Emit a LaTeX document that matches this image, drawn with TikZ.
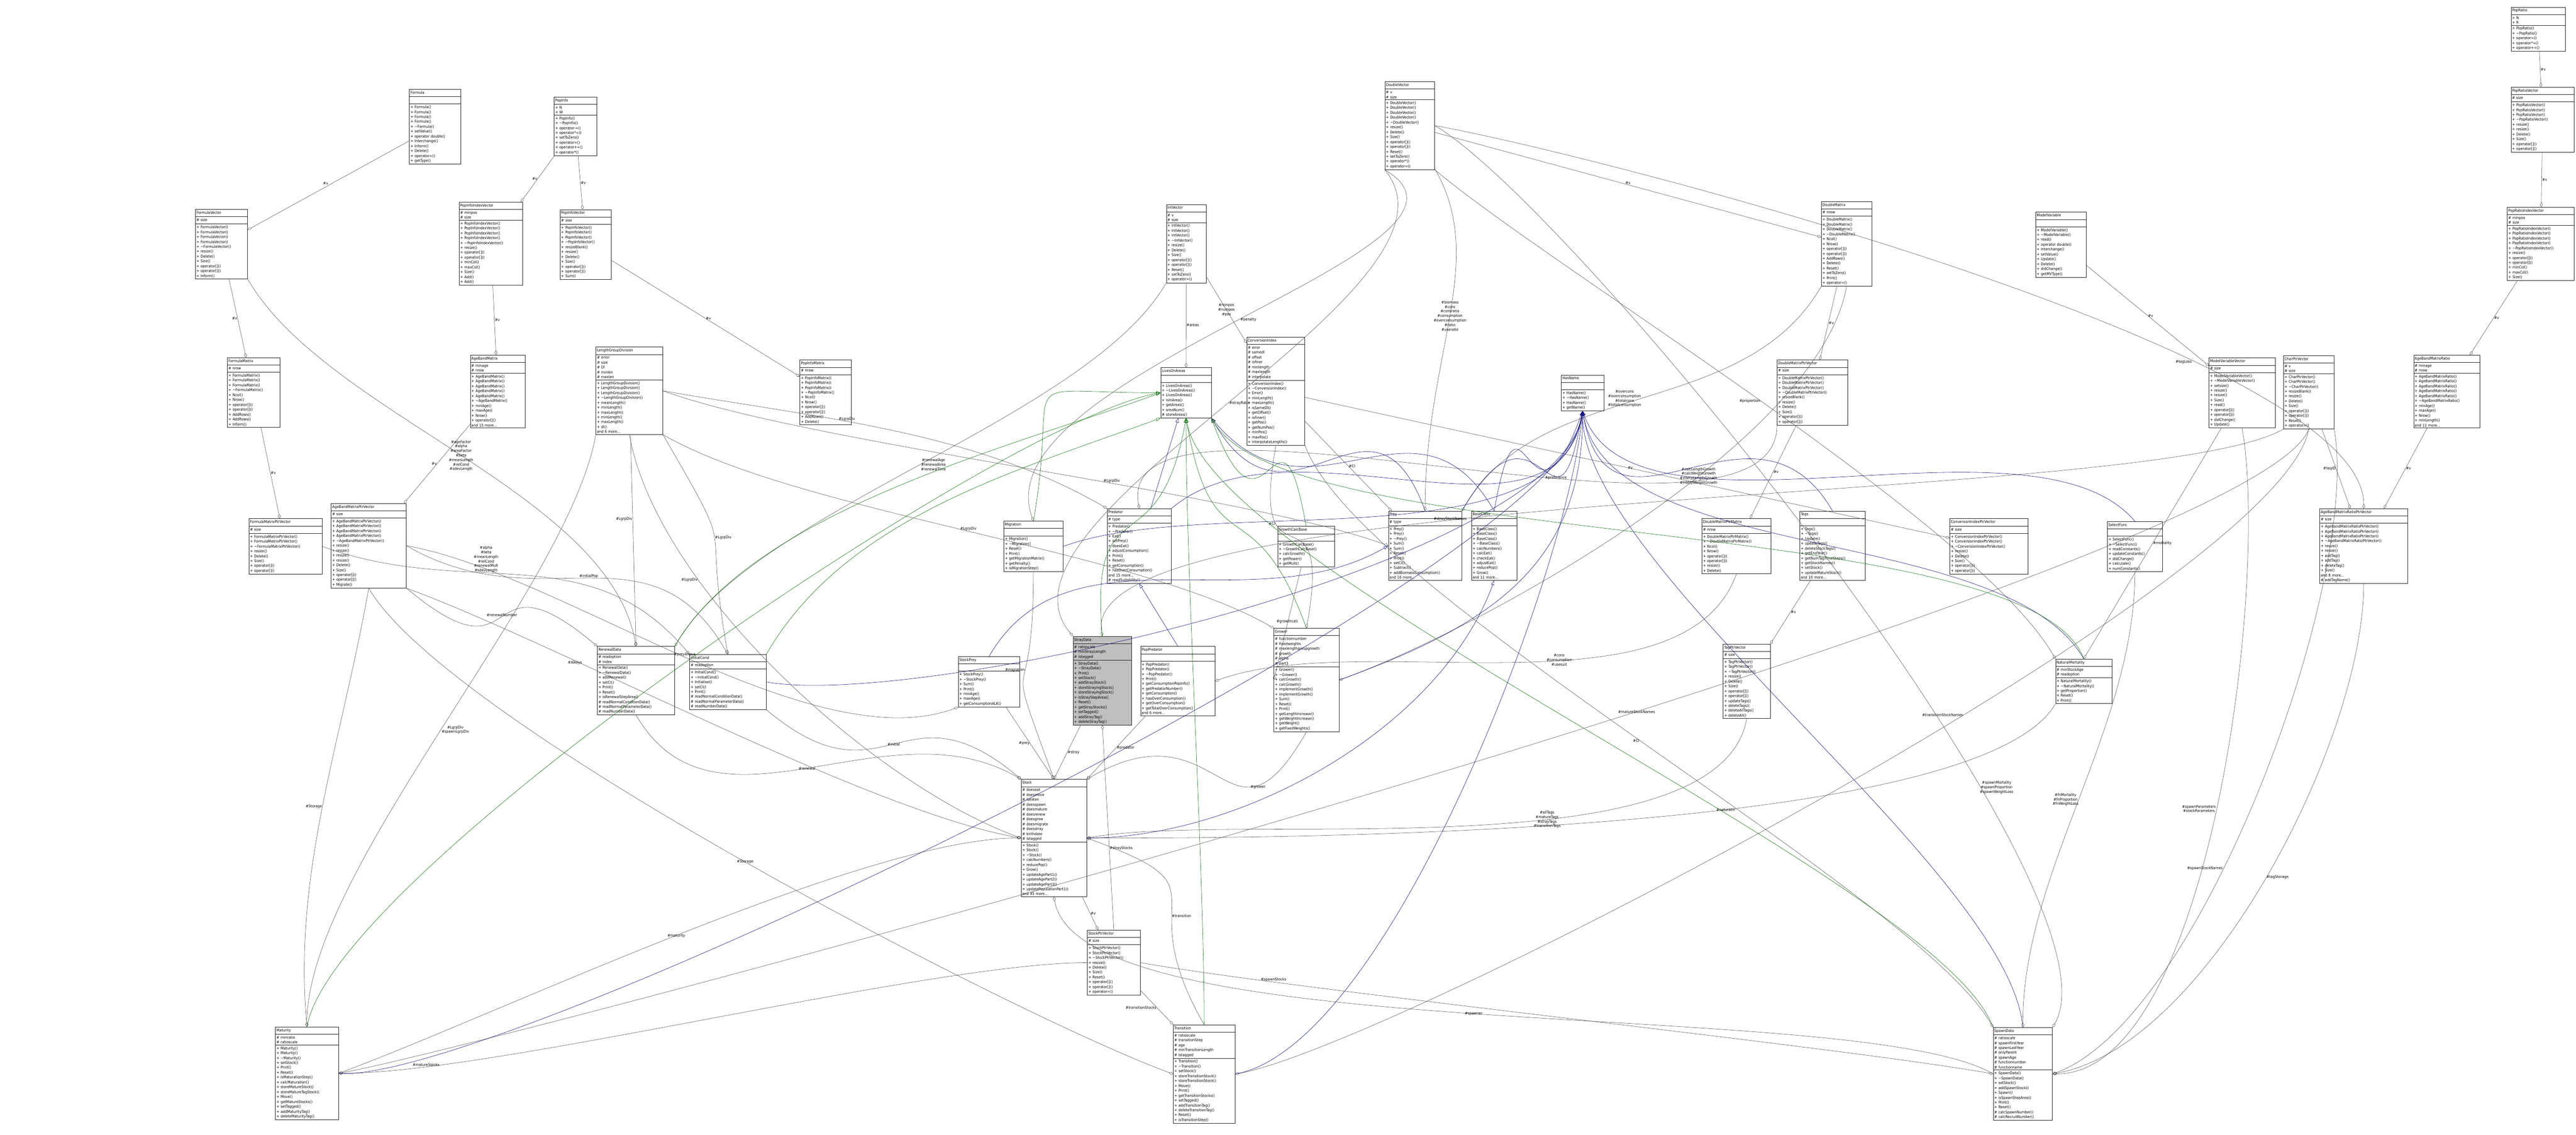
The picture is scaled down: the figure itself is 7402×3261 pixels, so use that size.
\documentclass[tikz,border=0pt]{standalone}
\usepackage{fontspec}
\setmainfont{DejaVu Sans Condensed}
\usetikzlibrary{shapes.multipart, arrows.meta, positioning}

\tikzset{
  cls/.style={rectangle split, rectangle split parts=3, draw=black!85, line width=1pt,
    fill=white, anchor=north west, align=left, inner sep=3pt,
    font=\fontsize{11}{14}\selectfont},
  hilite/.style={fill=black!25},
  agg/.style={draw=black!70, line width=.8pt, {Diamond[open,length=13pt,width=8pt]}-},
  pub/.style={draw=blue!45!black, line width=.8pt, -{Triangle[open,length=13pt,width=9pt]}},
  prot/.style={draw=green!40!black, line width=.8pt, -{Triangle[open,length=13pt,width=9pt]}},
  lbl/.style={font=\fontsize{11}{13}\selectfont, align=center, inner sep=1pt},
  cv/.style 2 args={to path={.. controls +(#1:450pt) and +(#2:450pt) .. (\tikztotarget) \tikztonodes}}
}
\newcommand{\tl}{\textasciitilde}
% class box: [style] name x y width title attributes methods
\newcommand{\umlclass}[8][]{%
  \node[cls, #1, text width=#5pt] (#2) at (#3pt,-#4pt)
    {\centering\strut #6\nodepart{two}\strut #7\nodepart{three}\strut #8};}

\begin{document}
\begin{tikzpicture}
\useasboundingbox (0,0) rectangle (7402pt,-3261pt);

% vectors and matrices
\umlclass{Formula}{1176}{256}{142}{Formula}{}{+ Formula()\\+ Formula()\\+ Formula()\\+ Formula()\\+ \tl Formula()\\+ setValue()\\+ operator double()\\+ Interchange()\\+ Inform()\\+ Delete()\\+ operator=()\\+ getType()}
\umlclass{FormulaVector}{561}{601}{144}{FormulaVector}{\# size}{+ FormulaVector()\\+ FormulaVector()\\+ FormulaVector()\\+ FormulaVector()\\+ \tl FormulaVector()\\+ resize()\\+ Delete()\\+ Size()\\+ operator[]()\\+ operator[]()\\+ Inform()}
\umlclass{FormulaMatrix}{653}{1027}{145}{FormulaMatrix}{\# nrow}{+ FormulaMatrix()\\+ FormulaMatrix()\\+ FormulaMatrix()\\+ \tl FormulaMatrix()\\+ Ncol()\\+ Nrow()\\+ operator[]()\\+ operator[]()\\+ AddRows()\\+ AddRows()\\+ Inform()}
\umlclass{FormulaMatrixPtrVector}{715}{1490}{204}{FormulaMatrixPtrVector}{\# size}{+ FormulaMatrixPtrVector()\\+ FormulaMatrixPtrVector()\\+ \tl FormulaMatrixPtrVector()\\+ resize()\\+ Delete()\\+ Size()\\+ operator[]()\\+ operator[]()}
\umlclass{PopInfo}{1592}{278}{117}{PopInfo}{+ N\\+ W}{+ PopInfo()\\+ \tl PopInfo()\\+ operator-=()\\+ operator*=()\\+ setToZero()\\+ operator=()\\+ operator+=()\\+ operator*()}
\umlclass{PopInfoIndexVector}{1319}{580}{176}{PopInfoIndexVector}{\# minpos\\\# size}{+ PopInfoIndexVector()\\+ PopInfoIndexVector()\\+ PopInfoIndexVector()\\+ PopInfoIndexVector()\\+ \tl PopInfoIndexVector()\\+ resize()\\+ operator[]()\\+ operator[]()\\+ minCol()\\+ maxCol()\\+ Size()\\+ Add()\\+ Add()}
\umlclass{PopInfoVector}{1609}{602}{140}{PopInfoVector}{\# size}{+ PopInfoVector()\\+ PopInfoVector()\\+ PopInfoVector()\\+ \tl PopInfoVector()\\+ resizeBlank()\\+ resize()\\+ Delete()\\+ Size()\\+ operator[]()\\+ operator[]()\\+ Sum()}
\umlclass{AgeBandMatrix}{1351}{1020}{151}{AgeBandMatrix}{\# minage\\\# nrow}{+ AgeBandMatrix()\\+ AgeBandMatrix()\\+ AgeBandMatrix()\\+ AgeBandMatrix()\\+ AgeBandMatrix()\\+ \tl AgeBandMatrix()\\+ minAge()\\+ maxAge()\\+ Nrow()\\+ operator[]()\\and 15 more...}
\umlclass{LengthGroupDivision}{1712}{997}{186}{LengthGroupDivision}{\# error\\\# size\\\# Dl\\\# minlen\\\# maxlen}{+ LengthGroupDivision()\\+ LengthGroupDivision()\\+ LengthGroupDivision()\\+ \tl LengthGroupDivision()\\+ meanLength()\\+ minLength()\\+ maxLength()\\+ minLength()\\+ maxLength()\\+ dl()\\and 6 more...}
\umlclass{PopInfoMatrix}{2298}{1034}{142}{PopInfoMatrix}{\# nrow}{+ PopInfoMatrix()\\+ PopInfoMatrix()\\+ PopInfoMatrix()\\+ \tl PopInfoMatrix()\\+ Ncol()\\+ Nrow()\\+ operator[]()\\+ operator[]()\\+ AddRows()\\+ Delete()}
\umlclass{AgeBandMatrixPtrVector}{951}{1446}{210}{AgeBandMatrixPtrVector}{\# size}{+ AgeBandMatrixPtrVector()\\+ AgeBandMatrixPtrVector()\\+ AgeBandMatrixPtrVector()\\+ AgeBandMatrixPtrVector()\\+ \tl AgeBandMatrixPtrVector()\\+ resize()\\+ resize()\\+ resize()\\+ resize()\\+ Delete()\\+ Size()\\+ operator[]()\\+ operator[]()\\+ Migrate()}
\umlclass{IntVector}{3351}{587}{108}{IntVector}{\# v\\\# size}{+ IntVector()\\+ IntVector()\\+ IntVector()\\+ \tl IntVector()\\+ resize()\\+ Delete()\\+ Size()\\+ operator[]()\\+ operator[]()\\+ Reset()\\+ setToZero()\\+ operator=()}
\umlclass{DoubleVector}{3979}{234}{137}{DoubleVector}{\# v\\\# size}{+ DoubleVector()\\+ DoubleVector()\\+ DoubleVector()\\+ DoubleVector()\\+ \tl DoubleVector()\\+ resize()\\+ Delete()\\+ Size()\\+ operator[]()\\+ operator[]()\\+ Reset()\\+ setToZero()\\+ operator*()\\+ operator=()}
\umlclass{DoubleMatrix}{5233}{579}{139}{DoubleMatrix}{\# nrow}{+ DoubleMatrix()\\+ DoubleMatrix()\\+ DoubleMatrix()\\+ \tl DoubleMatrix()\\+ Ncol()\\+ Nrow()\\+ operator[]()\\+ operator[]()\\+ AddRows()\\+ Delete()\\+ Reset()\\+ setToZero()\\+ Print()\\+ operator=()}
\umlclass{ModelVariable}{5849}{609}{139}{ModelVariable}{}{+ ModelVariable()\\+ \tl ModelVariable()\\+ read()\\+ operator double()\\+ Interchange()\\+ setValue()\\+ Update()\\+ Delete()\\+ didChange()\\+ getMVType()}
\umlclass{PopRatio}{7215}{20}{150}{PopRatio}{+ N\\+ R}{+ PopRatio()\\+ \tl PopRatio()\\+ operator=()\\+ operator*=()\\+ operator+=()}
\umlclass{PopRatioVector}{7215}{250}{175}{PopRatioVector}{\# size}{+ PopRatioVector()\\+ PopRatioVector()\\+ PopRatioVector()\\+ \tl PopRatioVector()\\+ resize()\\+ resize()\\+ Delete()\\+ Size()\\+ operator[]()\\+ operator[]()}
\umlclass{PopRatioIndexVector}{7204}{595}{186}{PopRatioIndexVector}{\# minpos\\\# size}{+ PopRatioIndexVector()\\+ PopRatioIndexVector()\\+ PopRatioIndexVector()\\+ PopRatioIndexVector()\\+ \tl PopRatioIndexVector()\\+ resize()\\+ operator[]()\\+ operator[]()\\+ minCol()\\+ maxCol()\\+ Size()}
\umlclass{DoubleMatrixPtrVector}{5106}{1034}{196}{DoubleMatrixPtrVector}{\# size}{+ DoubleMatrixPtrVector()\\+ DoubleMatrixPtrVector()\\+ DoubleMatrixPtrVector()\\+ \tl DoubleMatrixPtrVector()\\+ resizeBlank()\\+ resize()\\+ Delete()\\+ Size()\\+ operator[]()\\+ operator[]()}
\umlclass{ModelVariableVector}{6347}{1028}{184}{ModelVariableVector}{\# size}{+ ModelVariableVector()\\+ \tl ModelVariableVector()\\+ setsize()\\+ resize()\\+ resize()\\+ Size()\\+ read()\\+ operator[]()\\+ operator[]()\\+ didChange()\\+ Update()}
\umlclass{CharPtrVector}{6561}{1021}{139}{CharPtrVector}{\# v\\\# size}{+ CharPtrVector()\\+ CharPtrVector()\\+ \tl CharPtrVector()\\+ resizeBlank()\\+ resize()\\+ Delete()\\+ Size()\\+ operator[]()\\+ operator[]()\\+ Reset()\\+ operator=()}
\umlclass{AgeBandMatrixRatio}{6935}{1020}{184}{AgeBandMatrixRatio}{\# minage\\\# nrow}{+ AgeBandMatrixRatio()\\+ AgeBandMatrixRatio()\\+ AgeBandMatrixRatio()\\+ AgeBandMatrixRatio()\\+ AgeBandMatrixRatio()\\+ \tl AgeBandMatrixRatio()\\+ minAge()\\+ maxAge()\\+ Nrow()\\+ minLength()\\and 11 more...}
\umlclass{DoubleMatrixPtrMatrix}{4890}{1490}{192}{DoubleMatrixPtrMatrix}{\# nrow}{+ DoubleMatrixPtrMatrix()\\+ \tl DoubleMatrixPtrMatrix()\\+ Ncol()\\+ Nrow()\\+ operator[]()\\+ operator[]()\\+ resize()\\+ Delete()}
\umlclass{ConversionIndexPtrVector}{5602}{1490}{219}{ConversionIndexPtrVector}{\# size}{+ ConversionIndexPtrVector()\\+ ConversionIndexPtrVector()\\+ \tl ConversionIndexPtrVector()\\+ resize()\\+ Delete()\\+ Size()\\+ operator[]()\\+ operator[]()}
\umlclass{AgeBandMatrixRatioPtrVector}{6665}{1461}{247}{AgeBandMatrixRatioPtrVector}{\# size}{+ AgeBandMatrixRatioPtrVector()\\+ AgeBandMatrixRatioPtrVector()\\+ AgeBandMatrixRatioPtrVector()\\+ \tl AgeBandMatrixRatioPtrVector()\\+ resize()\\+ resize()\\+ addTag()\\+ addTag()\\+ deleteTag()\\+ Size()\\and 8 more...\\\# addTagName()}
\umlclass{TagPtrVector}{4951}{1850}{129}{TagPtrVector}{\# size}{+ TagPtrVector()\\+ TagPtrVector()\\+ \tl TagPtrVector()\\+ resize()\\+ Delete()\\+ Size()\\+ operator[]()\\+ operator[]()\\+ updateTags()\\+ deleteTags()\\+ deleteAllTags()\\+ deleteAll()}
\umlclass{StockPtrVector}{3124}{2672}{146}{StockPtrVector}{\# size}{+ StockPtrVector()\\+ StockPtrVector()\\+ \tl StockPtrVector()\\+ resize()\\+ Delete()\\+ Size()\\+ Reset()\\+ operator[]()\\+ operator[]()\\+ operator=()}

% base classes
\umlclass{HasName}{4486}{1077}{116}{HasName}{}{+ HasName()\\+ \tl HasName()\\+ HasName()\\+ getName()}
\umlclass{LivesOnAreas}{3335}{1056}{139}{LivesOnAreas}{}{+ LivesOnAreas()\\+ \tl LivesOnAreas()\\+ LivesOnAreas()\\+ isInArea()\\+ getAreas()\\+ areaNum()\\\# storeAreas()}
\umlclass{ConversionIndex}{3582}{968}{161}{ConversionIndex}{\# error\\\# samedl\\\# offset\\\# isfiner\\\# minlength\\\# maxlength\\\# interpolate}{+ ConversionIndex()\\+ \tl ConversionIndex()\\+ Error()\\+ minLength()\\+ maxLength()\\+ isSameDl()\\+ getOffset()\\+ isFiner()\\+ getPos()\\+ getNumPos()\\+ minPos()\\+ maxPos()\\+ interpolateLengths()}
\umlclass{Migration}{2884}{1497}{164}{Migration}{}{+ Migration()\\+ \tl Migration()\\+ Reset()\\+ Print()\\+ getMigrationMatrix()\\+ getPenalty()\\+ isMigrationStep()}
\umlclass{Predator}{3181}{1461}{178}{Predator}{\# type}{+ Predator()\\+ \tl Predator()\\+ Eat()\\+ setPrey()\\+ doesEat()\\+ adjustConsumption()\\+ Print()\\+ Reset()\\+ getConsumption()\\+ hasOverConsumption()\\and 15 more...\\\# readSuitability()}
\umlclass{GrowthCalcBase}{3671}{1512}{157}{GrowthCalcBase}{}{+ GrowthCalcBase()\\+ \tl GrowthCalcBase()\\+ calcGrowth()\\+ getPower()\\+ getMult()}
\umlclass{Prey}{3989}{1468}{205}{Prey}{\# type}{+ Prey()\\+ Prey()\\+ \tl Prey()\\+ Sum()\\+ Sum()\\+ Reset()\\+ Print()\\+ setCI()\\+ Subtract()\\+ addBiomassConsumption()\\and 16 more...}
\umlclass{BaseClass}{4228}{1468}{124}{BaseClass}{}{+ BaseClass()\\+ BaseClass()\\+ BaseClass()\\+ \tl BaseClass()\\+ calcNumbers()\\+ calcEat()\\+ checkEat()\\+ adjustEat()\\+ reducePop()\\+ Grow()\\and 11 more...}
\umlclass{Tags}{5171}{1468}{182}{Tags}{}{+ Tags()\\+ \tl Tags()\\+ Update()\\+ updateTags()\\+ deleteStockTags()\\+ getEndYear()\\+ getNumTagTimeSteps()\\+ getStockNames()\\+ setStock()\\+ updateMatureStock()\\and 10 more...}
\umlclass{SelectFunc}{6055}{1498}{152}{SelectFunc}{}{+ SelectFunc()\\+ \tl SelectFunc()\\+ readConstants()\\+ updateConstants()\\+ didChange()\\+ calculate()\\+ numConstants()}
\umlclass{NaturalMortality}{5906}{1893}{156}{NaturalMortality}{\# minStockAge\\\# readoption}{+ NaturalMortality()\\+ \tl NaturalMortality()\\+ getProportion()\\+ Reset()\\+ Print()}

% stock parts
\umlclass{RenewalData}{1716}{1857}{216}{RenewalData}{\# readoption\\\# index}{+ RenewalData()\\+ \tl RenewalData()\\+ addRenewal()\\+ setCI()\\+ Print()\\+ Reset()\\+ isRenewalStepArea()\\\# readNormalConditionData()\\\# readNormalParameterData()\\\# readNumberData()}
\umlclass{InitialCond}{1981}{1880}{214}{InitialCond}{\# readoption}{+ InitialCond()\\+ \tl InitialCond()\\+ Initialise()\\+ setCI()\\+ Print()\\\# readNormalConditionData()\\\# readNormalParameterData()\\\# readNumberData()}
\umlclass{StockPrey}{2753}{1886}{171}{StockPrey}{}{+ StockPrey()\\+ \tl StockPrey()\\+ Sum()\\+ Print()\\+ minAge()\\+ maxAge()\\+ getConsumptionALK()}
\umlclass[hilite]{StrayData}{3083}{1828}{162}{StrayData}{\# ratioscale\\\# minStrayLength\\\# istagged}{+ StrayData()\\+ \tl StrayData()\\+ Print()\\+ setStock()\\+ addStrayStock()\\+ storeStrayingStock()\\+ storeStrayingStock()\\+ isStrayStepArea()\\+ Reset()\\+ getStrayStocks()\\+ setTagged()\\+ addStrayTag()\\+ deleteStrayTag()}
\umlclass{PopPredator}{3277}{1857}{208}{PopPredator}{}{+ PopPredator()\\+ PopPredator()\\+ \tl PopPredator()\\+ Print()\\+ getConsumptionPopInfo()\\+ getPredatorNumber()\\+ getConsumption()\\+ hasOverConsumption()\\+ getOverConsumption()\\+ getTotalOverConsumption()\\and 6 more...}
\umlclass{Grower}{3660}{1805}{181}{Grower}{\# functionnumber\\\# fixedweights\\\# maxlengthgroupgrowth\\\# growth\\\# alpha\\\# part3}{+ Grower()\\+ \tl Grower()\\+ calcGrowth()\\+ calcGrowth()\\+ implementGrowth()\\+ implementGrowth()\\+ Sum()\\+ Reset()\\+ Print()\\+ getLengthIncrease()\\+ getWeightIncrease()\\+ getWeight()\\+ getFixedWeights()}
\umlclass{Stock}{2934}{2239}{182}{Stock}{\# doeseat\\\# doesmove\\\# iseaten\\\# doesspawn\\\# doesmature\\\# doesrenew\\\# doesgrow\\\# doesmigrate\\\# doesstray\\\# birthdate\\\# istagged}{+ Stock()\\+ Stock()\\+ \tl Stock()\\+ calcNumbers()\\+ reducePop()\\+ Grow()\\+ updateAgePart1()\\+ updateAgePart2()\\+ updateAgePart3()\\+ updatePopulationPart1()\\and 45 more...}
\umlclass{Maturity}{791}{2950}{175}{Maturity}{\# minratio\\\# ratioscale}{+ Maturity()\\+ Maturity()\\+ \tl Maturity()\\+ setStock()\\+ Print()\\+ Reset()\\+ isMaturationStep()\\+ calcMaturation()\\+ storeMatureStock()\\+ storeMatureTagStock()\\+ Move()\\+ getMatureStocks()\\+ setTagged()\\+ addMaturityTag()\\+ deleteMaturityTag()}
\umlclass{Transition}{3371}{2944}{171}{Transition}{\# ratioscale\\\# transitionStep\\\# age\\\# minTransitionLength\\\# istagged}{+ Transition()\\+ \tl Transition()\\+ setStock()\\+ storeTransitionStock()\\+ storeTransitionStock()\\+ Move()\\+ Print()\\+ getTransitionStocks()\\+ setTagged()\\+ addTransitionTag()\\+ deleteTransitionTag()\\+ Reset()\\+ isTransitionStep()}
\umlclass{SpawnData}{5727}{2952}{164}{SpawnData}{\# ratioscale\\\# spawnFirstYear\\\# spawnLastYear\\\# onlyParent\\\# spawnAge\\\# functionnumber\\\# functionname}{+ SpawnData()\\+ \tl SpawnData()\\+ setStock()\\+ addSpawnStock()\\+ Spawn()\\+ isSpawnStepArea()\\+ Print()\\+ Reset()\\\# calcSpawnNumber()\\\# calcRecruitNumber()}

% containers
\draw[agg] (FormulaVector) -- node[lbl, above left]{\#v} (Formula);
\draw[agg] (FormulaMatrix) -- node[lbl, left]{\#v} (FormulaVector);
\draw[agg] (FormulaMatrixPtrVector) -- node[lbl, right]{\#v} (FormulaMatrix);
\draw[agg] (PopInfoIndexVector) -- node[lbl, left]{\#v} (PopInfo);
\draw[agg] (PopInfoVector) -- node[lbl, right]{\#v} (PopInfo);
\draw[agg] (AgeBandMatrix) -- node[lbl, right]{\#v} (PopInfoIndexVector);
\draw[agg] (PopInfoMatrix) -- node[lbl, right]{\#v} (PopInfoVector);
\draw[agg] (AgeBandMatrixPtrVector) -- node[lbl, left]{\#v} (AgeBandMatrix);
\draw[agg] (DoubleMatrix) -- node[lbl, above]{\#v} (DoubleVector);
\draw[agg] (DoubleMatrixPtrVector) -- node[lbl, right]{\#v} (DoubleMatrix);
\draw[agg] (DoubleMatrixPtrMatrix) -- node[lbl, right]{\#v} (DoubleMatrixPtrVector);
\draw[agg] (ModelVariableVector) -- node[lbl, right]{\#v} (ModelVariable);
\draw[agg] (PopRatioVector) -- node[lbl, right]{\#v} (PopRatio);
\draw[agg] (PopRatioIndexVector) -- node[lbl, right]{\#v} (PopRatioVector);
\draw[agg] (AgeBandMatrixRatio) -- node[lbl, right]{\#v} (PopRatioIndexVector);
\draw[agg] (AgeBandMatrixRatioPtrVector) -- node[lbl, right]{\#v} (AgeBandMatrixRatio);
\draw[agg] (AgeBandMatrixRatioPtrVector) -- node[lbl, left]{\#tagID} (CharPtrVector);
\draw[agg] (AgeBandMatrixRatioPtrVector.north) to[cv={90}{-10}] node[lbl, left, pos=.3]{\#tagLoss} (DoubleVector.east);
\draw[agg] (ConversionIndex) -- node[lbl]{\#minpos\\\#numpos\\\#pos} (IntVector);
\draw[agg] (ConversionIndexPtrVector) -- node[lbl, right]{\#v} (ConversionIndex);
\draw[agg] (TagPtrVector) -- node[lbl, right]{\#v} (Tags);
\draw[agg] (StockPtrVector) -- node[lbl, right]{\#v} (Stock);
\draw[agg] (LivesOnAreas) -- node[lbl, right]{\#areas} (IntVector);
\draw[agg] (Prey) -- node[lbl, right]{\#CI} (ConversionIndex);
\draw[agg] (Prey.north) to[cv={90}{-60}] node[lbl, pos=.5]{\#biomass\\\#cons\\\#consratio\\\#consumption\\\#overconsumption\\\#ratio\\\#useratio} (DoubleVector);
\draw[agg] (Prey.west) to[cv={160}{-20}] node[lbl, pos=.4, above]{\#LgrpDiv} (LengthGroupDivision.east);
\draw[agg] (Predator.north west) to[cv={150}{-10}] node[lbl, pos=.6, above]{\#LgrpDiv} (LengthGroupDivision.east);
\draw[agg] (Predator.north) to[cv={100}{-90}] node[lbl, pos=.6, right]{\#preference} (DoubleMatrixPtrVector.south west);
\draw[agg] (Migration.north) to[cv={110}{-30}] node[lbl, pos=.5, right]{\#penalty} (DoubleVector.south west);
\draw[agg] (Grower.west) -- node[lbl, above]{\#growthcalc} (GrowthCalcBase);
\draw[agg] (Grower.north) to[cv={80}{-100}] node[lbl, pos=.7, left]{\#CI} (ConversionIndex.south);
\draw[agg] (Grower.east) to[cv={20}{-100}] node[lbl, pos=.6]{\#calcLengthGrowth\\\#calcWeightGrowth\\\#interpLengthGrowth\\\#interpWeightGrowth} (DoubleMatrix.south);
\draw[agg] (Grower.north west) to[cv={150}{-30}] node[lbl, pos=.5, above]{\#LgrpDiv} (LengthGroupDivision.south east);
\draw[agg] (Prey.north east) to[cv={60}{-120}] node[lbl, pos=.5, left]{\#overcons\\\#overconsumption\\\#totalcons\\\#totalconsumption} (DoubleMatrix.south west);
\draw[agg] (PopPredator.east) to[cv={20}{-110}] node[lbl, pos=.6, left]{\#cons\\\#consumption\\\#usesuit} (DoubleMatrixPtrMatrix.south);

% stock parts
\draw[agg] (Stock.north west) to[cv={150}{-60}] node[lbl, pos=.5]{\#renewal} (RenewalData.south);
\draw[agg] (Stock.north west) to[cv={140}{-40}] node[lbl, pos=.5]{\#initial} (InitialCond.south east);
\draw[agg] (Stock.north) -- node[lbl, left]{\#prey} (StockPrey);
\draw[agg] (Stock.north) -- node[lbl, right]{\#stray} (StrayData);
\draw[agg] (Stock.north east) -- node[lbl, right]{\#predator} (PopPredator);
\draw[agg] (Stock.north east) to[cv={30}{-120}] node[lbl, pos=.7, right]{\#grower} (Grower.south);
\draw[agg] (Stock.west) to[cv={180}{20}] node[lbl, pos=.5]{\#maturity} (Maturity.east);
\draw[agg] (Stock.south) to[cv={-80}{150}] node[lbl, pos=.5, left]{\#spawner} (SpawnData.west);
\draw[agg] (Stock.east) to[cv={-20}{120}] node[lbl, pos=.6, right]{\#transition} (Transition.north);
\draw[agg] (Stock.east) to[cv={0}{-120}] node[lbl, pos=.6]{\#naturalm} (NaturalMortality.south west);
\draw[agg] (Stock.north) to[cv={110}{-90}] node[lbl, pos=.6, left]{\#migration} (Migration.south);
\draw[agg] (Stock.west) to[cv={170}{-20}] node[lbl, pos=.7, below]{\#Alkeys} (AgeBandMatrixPtrVector.south east);
\draw[agg] (Stock.west) to[cv={160}{-80}] node[lbl, pos=.7, left]{\#LgrpDiv} (LengthGroupDivision.south);
\draw[agg] (Stock.east) to[cv={10}{-100}] node[lbl, pos=.6]{\#allTags\\\#matureTags\\\#strayTags\\\#transitionTags} (TagPtrVector.south);
\draw[agg] (StockPrey.south west) to[cv={-160}{-10}] node[lbl, pos=.5, above]{\#preyAlkeys} (AgeBandMatrixPtrVector.east);

% stock lists
\draw[agg] (Maturity.east) to[cv={0}{180}] node[lbl, pos=.15, above]{\#matureStocks} (StockPtrVector.west);
\draw[agg] (Transition.north west) -- node[lbl, left]{\#transitionStocks} (StockPtrVector);
\draw[agg] (SpawnData.west) to[cv={170}{-10}] node[lbl, pos=.8, above]{\#spawnStocks} (StockPtrVector.east);
\draw[agg] (StrayData.south) -- node[lbl, right, pos=.6]{\#strayStocks} (StockPtrVector.north);
\draw[agg] (Maturity.east) to[cv={10}{-110}] node[lbl, pos=.6]{\#matureStockNames} (CharPtrVector.south);
\draw[agg] (SpawnData.east) to[cv={20}{-80}] node[lbl, pos=.4, left]{\#spawnStockNames} (CharPtrVector.south east);
\draw[agg] (Transition.east) to[cv={10}{-100}] node[lbl, pos=.6, left]{\#transitionStockNames} (CharPtrVector.south);
\draw[agg] (StrayData.north) to[cv={100}{-150}] node[lbl, pos=.4, left]{\#strayStockNames} (CharPtrVector.south west);
\draw[agg] (Maturity.north) to[cv={90}{-100}] node[lbl, pos=.5, right]{\#LgrpDiv\\\#spawnLgrpDiv} (LengthGroupDivision.south west);
\draw[agg] (Maturity.north) to[cv={95}{-100}] node[lbl, pos=.5, left]{\#Storage} (AgeBandMatrixPtrVector.south);
\draw[agg] (Transition.west) to[cv={160}{-60}] node[lbl, pos=.5]{\#Storage} (AgeBandMatrixPtrVector.south);
\draw[agg] (SpawnData.east) to[cv={10}{-90}] node[lbl, pos=.5, right]{\#tagStorage} (AgeBandMatrixRatioPtrVector.south);
\draw[agg] (SpawnData.east) to[cv={0}{-80}] node[lbl, pos=.5, left]{\#spawnParameters\\\#stockParameters} (ModelVariableVector.south);
\draw[agg] (SpawnData.north) to[cv={90}{-90}] node[lbl, pos=.5, left]{\#fnMortality\\\#fnProportion\\\#fnWeightLoss} (SelectFunc.south);
\draw[agg] (SpawnData.north east) to[cv={60}{-30}] node[lbl, pos=.3, right]{\#spawnMortality\\\#spawnProportion\\\#spawnWeightLoss} (DoubleVector.east);
\draw[agg] (SpawnData.north west) to[cv={120}{-70}] node[lbl, pos=.5, left]{\#CI} (ConversionIndex.south east);
\draw[agg] (NaturalMortality.north) -- node[lbl, right]{\#mortality} (ModelVariableVector);
\draw[agg] (NaturalMortality.north west) to[cv={120}{-40}] node[lbl, pos=.5, left]{\#proportion} (DoubleVector.south east);
\draw[agg] (RenewalData.north) to[cv={100}{-60}] node[lbl, pos=.5]{\#ageFactor\\\#alpha\\\#areaFactor\\\#beta\\\#meanLength\\\#relCond\\\#sdevLength} (FormulaVector.south east);
\draw[agg] (InitialCond.north west) to[cv={130}{-20}] node[lbl, pos=.6, above]{\#alpha\\\#beta\\\#meanLength\\\#relCond\\\#renewalMult\\\#sdevLength} (FormulaMatrixPtrVector.east);
\draw[agg] (RenewalData.north east) to[cv={60}{-120}] node[lbl, pos=.5, right]{\#renewalAge\\\#renewalArea\\\#renewalTime} (IntVector.south west);
\draw[agg] (RenewalData.north west) to[cv={140}{-40}] node[lbl, pos=.5, above]{\#renewalNumber} (AgeBandMatrixPtrVector.south east);
\draw[agg] (InitialCond.north) to[cv={120}{-30}] node[lbl, pos=.5, above]{\#initialPop} (AgeBandMatrixPtrVector.east);
\draw[agg] (RenewalData.north) -- node[lbl, left, pos=.6]{\#LgrpDiv} (LengthGroupDivision);
\draw[agg] (InitialCond.north) to[cv={100}{-60}] node[lbl, pos=.5, right]{\#LgrpDiv} (LengthGroupDivision.south east);
\draw[agg] (StrayData.north west) to[cv={130}{-50}] node[lbl, pos=.5, right]{\#strayRatio} (DoubleVector.south west);

% inheritance
\draw[pub] (Predator) -- (LivesOnAreas);
\draw[pub] (Prey.north) to[cv={110}{-60}] (LivesOnAreas.south east);
\draw[pub] (BaseClass.north) to[cv={120}{-50}] (LivesOnAreas.south east);
\draw[pub] (Predator.north east) to[cv={40}{-100}] (HasName.south);
\draw[pub] (Prey.north east) to[cv={60}{-100}] (HasName.south);
\draw[pub] (BaseClass.north) to[cv={80}{-110}] (HasName.south);
\draw[pub] (Tags.north) to[cv={120}{-80}] (HasName.south);
\draw[pub] (SelectFunc.north) to[cv={130}{-70}] (HasName.south);
\draw[pub] (Migration.east) to[cv={20}{-100}] (HasName.south);
\draw[pub] (PopPredator.north) -- (Predator.south);
\draw[pub] (StockPrey.north) to[cv={60}{-150}] (Prey.west);
\draw[pub] (Stock.east) to[cv={0}{-110}] (BaseClass.south);
\draw[pub] (Grower.east) to[cv={20}{-90}] (HasName.south);
\draw[pub] (Maturity.east) to[cv={-5}{-95}] (HasName.south);
\draw[pub] (Transition.east) to[cv={10}{-95}] (HasName.south);
\draw[pub] (SpawnData.north) to[cv={95}{-90}] (HasName.south);
\draw[pub] (NaturalMortality.north) to[cv={120}{-80}] (HasName.south);
\draw[pub] (InitialCond.east) to[cv={-10}{-100}] (HasName.south);
\draw[prot] (Migration.north) to[cv={80}{180}] (LivesOnAreas.west);
\draw[prot] (GrowthCalcBase.north) to[cv={100}{-70}] (LivesOnAreas.south east);
\draw[prot] (Grower.north) to[cv={110}{-80}] (LivesOnAreas.south);
\draw[prot] (Maturity.north) to[cv={80}{190}] (LivesOnAreas.west);
\draw[prot] (Transition.north) to[cv={90}{-90}] (LivesOnAreas.south);
\draw[prot] (SpawnData.north west) to[cv={110}{-80}] (LivesOnAreas.south);
\draw[prot] (StrayData.north) to[cv={95}{-100}] (LivesOnAreas.south);
\draw[prot] (RenewalData.north east) to[cv={60}{200}] (LivesOnAreas.west);
\draw[prot] (InitialCond.north east) to[cv={60}{200}] (LivesOnAreas.south west);
\draw[prot] (NaturalMortality.north) to[cv={110}{-60}] (LivesOnAreas.south east);
\end{tikzpicture}
\end{document}
